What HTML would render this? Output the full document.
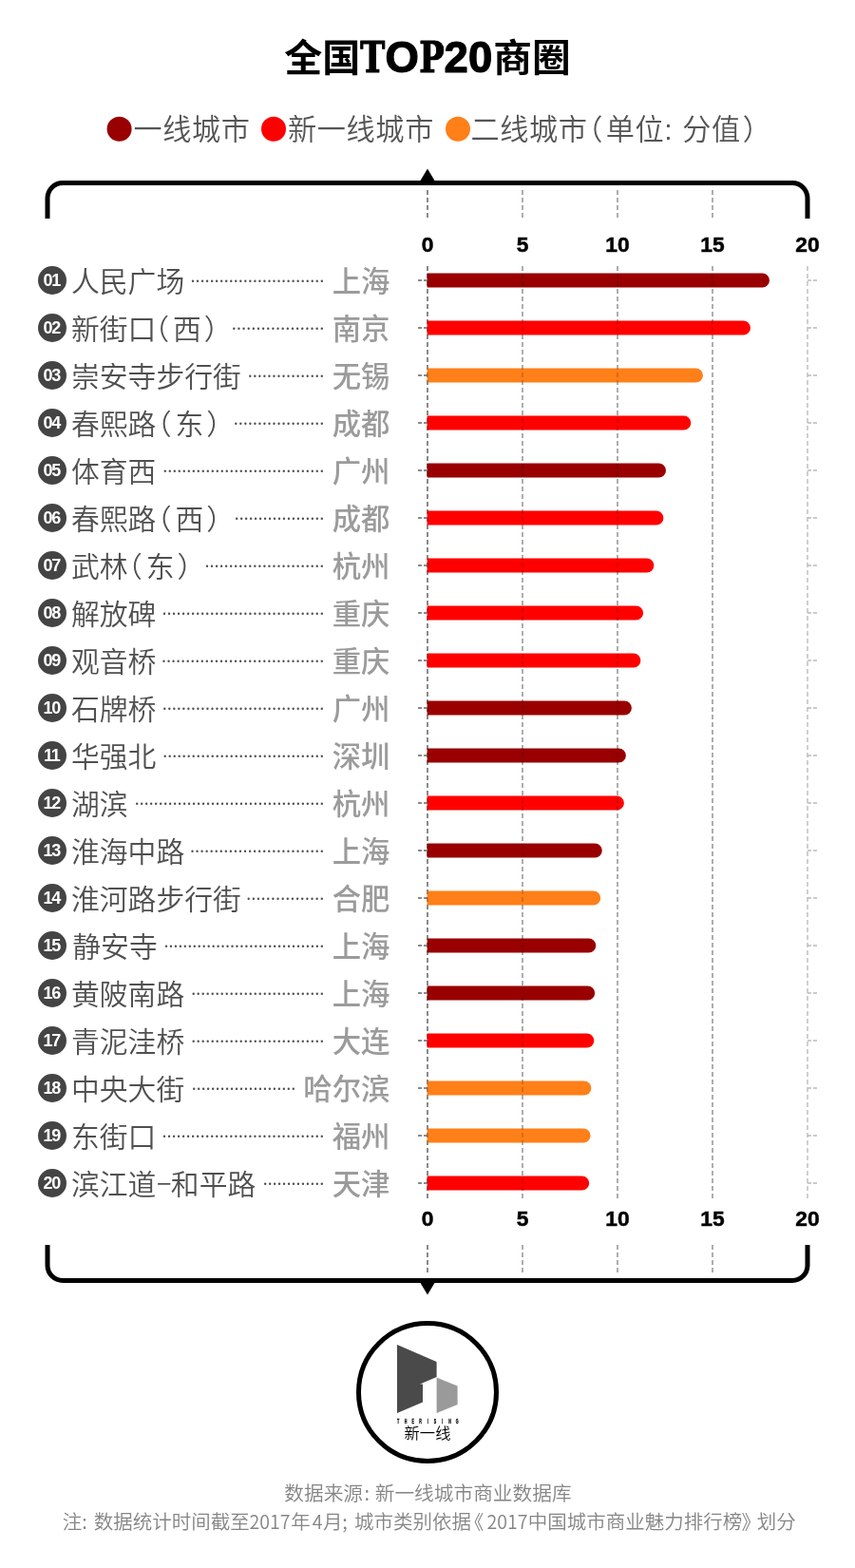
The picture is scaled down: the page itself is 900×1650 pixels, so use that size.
<!DOCTYPE html>
<html lang="zh-CN">
<head>
<meta charset="utf-8">
<title>全国TOP20商圈</title>
<style>
html,body{margin:0;padding:0;background:#fff;}
body{width:900px;height:1650px;overflow:hidden;}
svg{display:block;}
text{font-family:"Liberation Sans","Noto Sans CJK SC",sans-serif;}
.title{font-size:40px;font-weight:700;fill:#000;}
.slab{font-family:"DejaVu Serif","Liberation Serif",serif;font-size:44.7px;stroke:#000;stroke-width:1.2px;stroke-linejoin:round;}
.rnd{font-family:"Liberation Sans",sans-serif;font-size:45.5px;stroke:#000;stroke-width:1.2px;stroke-linejoin:round;}
.leg{font-size:30.2px;font-weight:350;fill:#555;letter-spacing:0.6px;}
.name{font-size:29.8px;font-weight:350;fill:#505050;}
.city{font-size:30.4px;font-weight:500;fill:#9b9b9b;text-anchor:end;}
.num{font-family:"Liberation Sans",sans-serif;font-size:18px;font-weight:700;fill:#fff;text-anchor:middle;letter-spacing:-1.2px;}
.ax{font-family:"Liberation Sans",sans-serif;font-size:22.8px;font-weight:700;fill:#000;stroke:#000;stroke-width:0.5px;text-anchor:middle;}
.foot{font-size:20.5px;font-weight:350;fill:#858585;}
.foot .lat{font-family:"Noto Sans CJK SC","Liberation Sans",sans-serif;}
.pl,.pr{font-feature-settings:"halt" 1;}
.dash{font-family:"Noto Sans CJK SC",sans-serif;}
.grid line{stroke-width:1.5;stroke-dasharray:5 3;}
.dots{stroke:#505050;stroke-width:2.4;stroke-linecap:round;}
.tick line{stroke-width:1.6;stroke-dasharray:4 2;}
</style>
</head>
<body>
<svg width="900" height="1650" viewBox="0 0 900 1650">
<rect width="900" height="1650" fill="#fff"/>

<g class="title">
<text y="75"><tspan x="299.3">全国</tspan><tspan class="slab" x="379.2" y="76" textLength="26" lengthAdjust="spacingAndGlyphs">T</tspan><tspan class="rnd" x="405.6" y="76">O</tspan><tspan class="slab" x="441.3" y="76" textLength="26.5" lengthAdjust="spacingAndGlyphs">P</tspan><tspan class="rnd" x="467.5" y="76">2</tspan><tspan class="rnd" x="493" y="76">0</tspan><tspan x="519.2" y="75" textLength="81.4" lengthAdjust="spacingAndGlyphs">商圈</tspan></text>
</g>

<g class="leg">
<circle cx="125.6" cy="135.7" r="13" fill="#990000"/><text x="140.5" y="146.6">一线城市</text>
<circle cx="288" cy="135.7" r="13" fill="#ff0000"/><text x="303" y="146.6">新一线城市</text>
<circle cx="482" cy="135.7" r="13" fill="#ff7f19"/><text x="495.5" y="146.6">二线城市<tspan class="pl" dx="0.8">（</tspan><tspan dx="2.5">单位: </tspan><tspan dx="1">分值</tspan><tspan class="pr" dx="2">）</tspan></text>
</g>

<g class="grid">
<g stroke="#858585">
<line x1="450" y1="200" x2="450" y2="230"/>
<line x1="450" y1="280" x2="450" y2="1261"/>
<line x1="450" y1="1310" x2="450" y2="1341"/>
</g>
<g stroke="#bfbfbf">
<line x1="550" y1="200" x2="550" y2="230"/>
<line x1="550" y1="280" x2="550" y2="1261"/>
<line x1="550" y1="1310" x2="550" y2="1341"/>
</g>
<g stroke="#bfbfbf">
<line x1="650" y1="200" x2="650" y2="230"/>
<line x1="650" y1="280" x2="650" y2="1261"/>
<line x1="650" y1="1310" x2="650" y2="1341"/>
</g>
<g stroke="#bfbfbf">
<line x1="750" y1="200" x2="750" y2="230"/>
<line x1="750" y1="280" x2="750" y2="1261"/>
<line x1="750" y1="1310" x2="750" y2="1341"/>
</g>
<g stroke="#c0c0c0">
<line x1="850" y1="280" x2="850" y2="1261"/>
</g>
</g>

<g class="bars">
<path d="M449.6 287.5H802.5a7.5 7.5 0 0 1 0 15H449.6z" fill="#990000"/>
<path d="M449.6 337.5H782.5a7.5 7.5 0 0 1 0 15H449.6z" fill="#ff0000"/>
<path d="M449.6 387.5H732.5a7.5 7.5 0 0 1 0 15H449.6z" fill="#ff7f19"/>
<path d="M449.6 437.5H719.8a7.5 7.5 0 0 1 0 15H449.6z" fill="#ff0000"/>
<path d="M449.6 487.5H693.5a7.5 7.5 0 0 1 0 15H449.6z" fill="#990000"/>
<path d="M449.6 537.5H690.9a7.5 7.5 0 0 1 0 15H449.6z" fill="#ff0000"/>
<path d="M449.6 587.5H680.9a7.5 7.5 0 0 1 0 15H449.6z" fill="#ff0000"/>
<path d="M449.6 637.5H669.6a7.5 7.5 0 0 1 0 15H449.6z" fill="#ff0000"/>
<path d="M449.6 687.5H666.9a7.5 7.5 0 0 1 0 15H449.6z" fill="#ff0000"/>
<path d="M449.6 737.5H657.4a7.5 7.5 0 0 1 0 15H449.6z" fill="#990000"/>
<path d="M449.6 787.5H651.4a7.5 7.5 0 0 1 0 15H449.6z" fill="#990000"/>
<path d="M449.6 837.5H649.4a7.5 7.5 0 0 1 0 15H449.6z" fill="#ff0000"/>
<path d="M449.6 887.5H626.3a7.5 7.5 0 0 1 0 15H449.6z" fill="#990000"/>
<path d="M449.6 937.5H624.7a7.5 7.5 0 0 1 0 15H449.6z" fill="#ff7f19"/>
<path d="M449.6 987.5H619.8a7.5 7.5 0 0 1 0 15H449.6z" fill="#990000"/>
<path d="M449.6 1037.5H618.7a7.5 7.5 0 0 1 0 15H449.6z" fill="#990000"/>
<path d="M449.6 1087.5H617.8a7.5 7.5 0 0 1 0 15H449.6z" fill="#ff0000"/>
<path d="M449.6 1137.5H614.9a7.5 7.5 0 0 1 0 15H449.6z" fill="#ff7f19"/>
<path d="M449.6 1187.5H614.1a7.5 7.5 0 0 1 0 15H449.6z" fill="#ff7f19"/>
<path d="M449.6 1237.5H612.7a7.5 7.5 0 0 1 0 15H449.6z" fill="#ff0000"/>
</g>

<g class="grid" opacity="0.2">
<g stroke="#000">
<line x1="450" y1="200" x2="450" y2="230"/>
<line x1="450" y1="280" x2="450" y2="1261"/>
<line x1="450" y1="1310" x2="450" y2="1341"/>
</g>
<g stroke="#000">
<line x1="550" y1="200" x2="550" y2="230"/>
<line x1="550" y1="280" x2="550" y2="1261"/>
<line x1="550" y1="1310" x2="550" y2="1341"/>
</g>
<g stroke="#000">
<line x1="650" y1="200" x2="650" y2="230"/>
<line x1="650" y1="280" x2="650" y2="1261"/>
<line x1="650" y1="1310" x2="650" y2="1341"/>
</g>
<g stroke="#000">
<line x1="750" y1="200" x2="750" y2="230"/>
<line x1="750" y1="280" x2="750" y2="1261"/>
<line x1="750" y1="1310" x2="750" y2="1341"/>
</g>
</g>

<g class="tick">
<line x1="440" y1="295" x2="450" y2="295" stroke="#666"/><line x1="850" y1="295" x2="860" y2="295" stroke="#bbb"/>
<line x1="440" y1="345" x2="450" y2="345" stroke="#666"/><line x1="850" y1="345" x2="860" y2="345" stroke="#bbb"/>
<line x1="440" y1="395" x2="450" y2="395" stroke="#666"/><line x1="850" y1="395" x2="860" y2="395" stroke="#bbb"/>
<line x1="440" y1="445" x2="450" y2="445" stroke="#666"/><line x1="850" y1="445" x2="860" y2="445" stroke="#bbb"/>
<line x1="440" y1="495" x2="450" y2="495" stroke="#666"/><line x1="850" y1="495" x2="860" y2="495" stroke="#bbb"/>
<line x1="440" y1="545" x2="450" y2="545" stroke="#666"/><line x1="850" y1="545" x2="860" y2="545" stroke="#bbb"/>
<line x1="440" y1="595" x2="450" y2="595" stroke="#666"/><line x1="850" y1="595" x2="860" y2="595" stroke="#bbb"/>
<line x1="440" y1="645" x2="450" y2="645" stroke="#666"/><line x1="850" y1="645" x2="860" y2="645" stroke="#bbb"/>
<line x1="440" y1="695" x2="450" y2="695" stroke="#666"/><line x1="850" y1="695" x2="860" y2="695" stroke="#bbb"/>
<line x1="440" y1="745" x2="450" y2="745" stroke="#666"/><line x1="850" y1="745" x2="860" y2="745" stroke="#bbb"/>
<line x1="440" y1="795" x2="450" y2="795" stroke="#666"/><line x1="850" y1="795" x2="860" y2="795" stroke="#bbb"/>
<line x1="440" y1="845" x2="450" y2="845" stroke="#666"/><line x1="850" y1="845" x2="860" y2="845" stroke="#bbb"/>
<line x1="440" y1="895" x2="450" y2="895" stroke="#666"/><line x1="850" y1="895" x2="860" y2="895" stroke="#bbb"/>
<line x1="440" y1="945" x2="450" y2="945" stroke="#666"/><line x1="850" y1="945" x2="860" y2="945" stroke="#bbb"/>
<line x1="440" y1="995" x2="450" y2="995" stroke="#666"/><line x1="850" y1="995" x2="860" y2="995" stroke="#bbb"/>
<line x1="440" y1="1045" x2="450" y2="1045" stroke="#666"/><line x1="850" y1="1045" x2="860" y2="1045" stroke="#bbb"/>
<line x1="440" y1="1095" x2="450" y2="1095" stroke="#666"/><line x1="850" y1="1095" x2="860" y2="1095" stroke="#bbb"/>
<line x1="440" y1="1145" x2="450" y2="1145" stroke="#666"/><line x1="850" y1="1145" x2="860" y2="1145" stroke="#bbb"/>
<line x1="440" y1="1195" x2="450" y2="1195" stroke="#666"/><line x1="850" y1="1195" x2="860" y2="1195" stroke="#bbb"/>
<line x1="440" y1="1245" x2="450" y2="1245" stroke="#666"/><line x1="850" y1="1245" x2="860" y2="1245" stroke="#bbb"/>
</g>

<g fill="none" stroke="#000" stroke-width="5">
<path d="M50 230V208.5a16 16 0 0 1 16-16H834a16 16 0 0 1 16 16V230"/>
<path d="M50 1310V1331.5a16 16 0 0 0 16 16H834a16 16 0 0 0 16-16V1310"/>
</g>
<path d="M441 192.5L450 177.5L459 192.5z" fill="#000"/>
<path d="M441 1347.5L450 1362.5L459 1347.5z" fill="#000"/>

<g class="ax">
<text x="450" y="265.1">0</text>
<text x="550" y="265.1">5</text>
<text x="650" y="265.1">10</text>
<text x="750" y="265.1">15</text>
<text x="850" y="265.1">20</text>
<text x="450" y="1290.1">0</text>
<text x="550" y="1290.1">5</text>
<text x="650" y="1290.1">10</text>
<text x="750" y="1290.1">15</text>
<text x="850" y="1290.1">20</text>
</g>

<g class="rows">
<circle cx="55" cy="295" r="15" fill="#444"/><text class="num" x="54.2" y="301.4">01</text><text class="name" x="75" y="306.9">人民广场</text><line class="dots" x1="203.0" y1="295.8" x2="339.3" y2="295.8" stroke-dasharray="0 5.030"/><text class="city" x="410.5" y="306.7">上海</text>
<circle cx="55" cy="345" r="15" fill="#444"/><text class="num" x="54.2" y="351.4">02</text><text class="name" x="75" y="356.9">新街口<tspan class="pl" dx="-1.3">（</tspan><tspan dx="4">西</tspan><tspan class="pr" dx="3">）</tspan></text><line class="dots" x1="246.3" y1="345.8" x2="339.3" y2="345.8" stroke-dasharray="0 5.139"/><text class="city" x="410.5" y="356.7">南京</text>
<circle cx="55" cy="395" r="15" fill="#444"/><text class="num" x="54.2" y="401.4">03</text><text class="name" x="75" y="406.9">崇安寺步行街</text><line class="dots" x1="263.3" y1="395.8" x2="339.3" y2="395.8" stroke-dasharray="0 5.033"/><text class="city" x="410.5" y="406.7">无锡</text>
<circle cx="55" cy="445" r="15" fill="#444"/><text class="num" x="54.2" y="451.4">04</text><text class="name" x="75" y="456.9">春熙路<tspan class="pl" dx="1.2">（</tspan><tspan dx="4">东</tspan><tspan class="pr" dx="3">）</tspan></text><line class="dots" x1="248.3" y1="445.8" x2="339.3" y2="445.8" stroke-dasharray="0 5.028"/><text class="city" x="410.5" y="456.7">成都</text>
<circle cx="55" cy="495" r="15" fill="#444"/><text class="num" x="54.2" y="501.4">05</text><text class="name" x="75" y="506.9">体育西</text><line class="dots" x1="173.8" y1="495.8" x2="339.3" y2="495.8" stroke-dasharray="0 5.000"/><text class="city" x="410.5" y="506.7">广州</text>
<circle cx="55" cy="545" r="15" fill="#444"/><text class="num" x="54.2" y="551.4">06</text><text class="name" x="75" y="556.9">春熙路<tspan class="pl" dx="1.2">（</tspan><tspan dx="4">西</tspan><tspan class="pr" dx="3">）</tspan></text><line class="dots" x1="249.2" y1="545.8" x2="339.3" y2="545.8" stroke-dasharray="0 4.978"/><text class="city" x="410.5" y="556.7">成都</text>
<circle cx="55" cy="595" r="15" fill="#444"/><text class="num" x="54.2" y="601.4">07</text><text class="name" x="75" y="606.9">武林<tspan class="pl" dx="0.2">（</tspan><tspan dx="4">东</tspan><tspan class="pr" dx="3">）</tspan></text><line class="dots" x1="218.0" y1="595.8" x2="339.3" y2="595.8" stroke-dasharray="0 5.033"/><text class="city" x="410.5" y="606.7">杭州</text>
<circle cx="55" cy="645" r="15" fill="#444"/><text class="num" x="54.2" y="651.4">08</text><text class="name" x="75" y="656.9">解放碑</text><line class="dots" x1="173.0" y1="645.8" x2="339.3" y2="645.8" stroke-dasharray="0 5.024"/><text class="city" x="410.5" y="656.7">重庆</text>
<circle cx="55" cy="695" r="15" fill="#444"/><text class="num" x="54.2" y="701.4">09</text><text class="name" x="75" y="706.9">观音桥</text><line class="dots" x1="172.5" y1="695.8" x2="339.3" y2="695.8" stroke-dasharray="0 5.039"/><text class="city" x="410.5" y="706.7">重庆</text>
<circle cx="55" cy="745" r="15" fill="#444"/><text class="num" x="54.2" y="751.4">10</text><text class="name" x="75" y="756.9">石牌桥</text><line class="dots" x1="173.3" y1="745.8" x2="339.3" y2="745.8" stroke-dasharray="0 5.015"/><text class="city" x="410.5" y="756.7">广州</text>
<circle cx="55" cy="795" r="15" fill="#444"/><text class="num" x="54.2" y="801.4">11</text><text class="name" x="75" y="806.9">华强北</text><line class="dots" x1="173.7" y1="795.8" x2="339.3" y2="795.8" stroke-dasharray="0 5.003"/><text class="city" x="410.5" y="806.7">深圳</text>
<circle cx="55" cy="845" r="15" fill="#444"/><text class="num" x="54.2" y="851.4">12</text><text class="name" x="75" y="856.9">湖滨</text><line class="dots" x1="144.2" y1="845.8" x2="339.3" y2="845.8" stroke-dasharray="0 4.990"/><text class="city" x="410.5" y="856.7">杭州</text>
<circle cx="55" cy="895" r="15" fill="#444"/><text class="num" x="54.2" y="901.4">13</text><text class="name" x="75" y="906.9">淮海中路</text><line class="dots" x1="202.5" y1="895.8" x2="339.3" y2="895.8" stroke-dasharray="0 5.048"/><text class="city" x="410.5" y="906.7">上海</text>
<circle cx="55" cy="945" r="15" fill="#444"/><text class="num" x="54.2" y="951.4">14</text><text class="name" x="75" y="956.9">淮河路步行街</text><line class="dots" x1="261.7" y1="945.8" x2="339.3" y2="945.8" stroke-dasharray="0 5.140"/><text class="city" x="410.5" y="956.7">合肥</text>
<circle cx="55" cy="995" r="15" fill="#444"/><text class="num" x="54.2" y="1001.4">15</text><text class="name" x="76.3" y="1007.3">静安寺</text><line class="dots" x1="175.0" y1="995.8" x2="339.3" y2="995.8" stroke-dasharray="0 4.964"/><text class="city" x="410.5" y="1006.7">上海</text>
<circle cx="55" cy="1045" r="15" fill="#444"/><text class="num" x="54.2" y="1051.4">16</text><text class="name" x="75" y="1056.9">黄陂南路</text><line class="dots" x1="203.7" y1="1045.8" x2="339.3" y2="1045.8" stroke-dasharray="0 5.004"/><text class="city" x="410.5" y="1056.7">上海</text>
<circle cx="55" cy="1095" r="15" fill="#444"/><text class="num" x="54.2" y="1101.4">17</text><text class="name" x="75" y="1106.9">青泥洼桥</text><line class="dots" x1="203.7" y1="1095.8" x2="339.3" y2="1095.8" stroke-dasharray="0 5.004"/><text class="city" x="410.5" y="1106.7">大连</text>
<circle cx="55" cy="1145" r="15" fill="#444"/><text class="num" x="54.2" y="1151.4">18</text><text class="name" x="75" y="1156.9">中央大街</text><line class="dots" x1="204.2" y1="1145.8" x2="309.3" y2="1145.8" stroke-dasharray="0 4.981"/><text class="city" x="410.5" y="1156.7">哈尔滨</text>
<circle cx="55" cy="1195" r="15" fill="#444"/><text class="num" x="54.2" y="1201.4">19</text><text class="name" x="75" y="1206.9">东街口</text><line class="dots" x1="173.0" y1="1195.8" x2="339.3" y2="1195.8" stroke-dasharray="0 5.024"/><text class="city" x="410.5" y="1206.7">福州</text>
<circle cx="55" cy="1245" r="15" fill="#444"/><text class="num" x="54.2" y="1251.4">20</text><text class="name" x="75" y="1257.3">滨江道<tspan class="dash" dx="0.3" dy="-3">–</tspan><tspan dx="-0.8" dy="3">和平路</tspan></text><line class="dots" x1="279.2" y1="1245.8" x2="339.3" y2="1245.8" stroke-dasharray="0 4.967"/><text class="city" x="410.5" y="1256.7">天津</text>
</g>

<g class="logo">
<circle cx="450" cy="1465" r="72.5" fill="#fff" stroke="#000" stroke-width="5"/>
<path d="M418 1415L459.6 1433V1449L442 1456.4H445V1475.6L418 1487z" fill="#4a4a4a"/>
<path d="M459.6 1449.4L481.6 1458.4V1478L459.6 1487z" fill="#9a9a9a"/>
<text transform="scale(0.52 1)" x="806.2 821.1 836.0 843.4 850.9 865.8 880.7 895.6 910.5 925.4" y="1498" text-anchor="middle" font-size="7" font-weight="700" fill="#000" stroke="#000" stroke-width="0.3" font-family="&quot;Liberation Sans&quot;,sans-serif">THE RISING</text>
<text x="450" y="1514" text-anchor="middle" font-size="16.3" font-weight="350" fill="#000">新一线</text>
</g>

<g class="foot">
<text y="1578.6" font-size="20.7"><tspan x="299.3">数据来源</tspan><tspan class="lat" x="383.4">: </tspan><tspan x="394.7">新一线城市商业数据库</tspan></text>
<text y="1608.8"><tspan x="65.7">注</tspan><tspan class="lat" x="86.3">: </tspan><tspan x="98.8">数据统计时间截至</tspan><tspan class="lat" x="262.6" textLength="43" lengthAdjust="spacingAndGlyphs">2017</tspan><tspan x="306.3">年</tspan><tspan class="lat" x="328.8" textLength="10.8" lengthAdjust="spacingAndGlyphs">4</tspan><tspan x="340">月</tspan><tspan class="lat" x="360.3">; </tspan><tspan x="373.1">城市类别依据</tspan><tspan class="pl" x="499">《</tspan><tspan class="lat" x="512.4" textLength="43" lengthAdjust="spacingAndGlyphs">2017</tspan><tspan x="555.8">中国城市商业魅力排行榜</tspan><tspan class="pr" x="780.6">》</tspan><tspan x="796.8">划分</tspan></text>
</g>

</svg>
</body>
</html>
